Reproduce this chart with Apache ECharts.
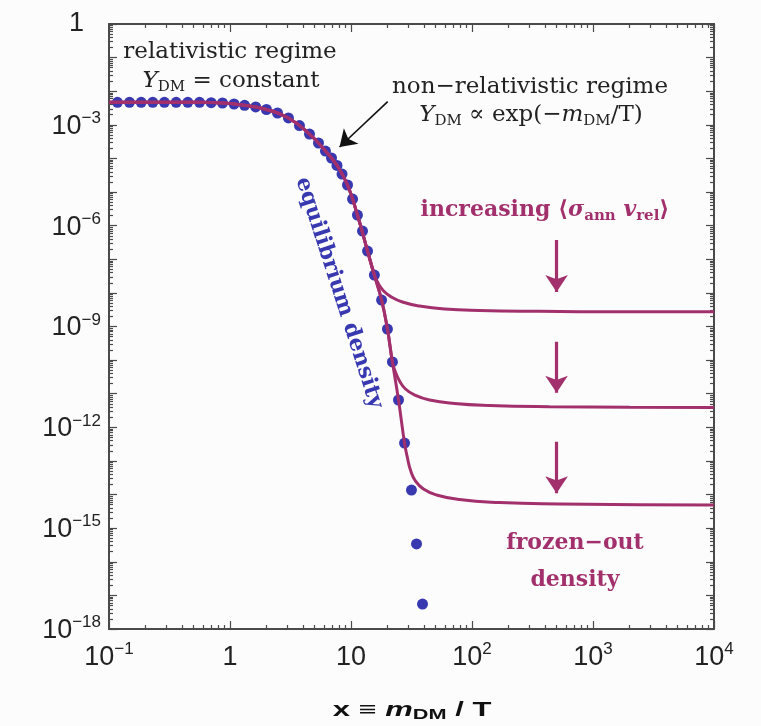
<!DOCTYPE html>
<html>
<head>
<meta charset="utf-8">
<script src="https://cdn.jsdelivr.net/npm/echarts@6/dist/echarts.min.js"></script>
<style>
  html, body { margin: 0; padding: 0; background: #fcfcfc; }
  #chart { width: 761px; height: 726px; }
</style>
</head>
<body>
<div id="chart"></div>
<script>
// Axis ranges and tick positions
const xRange = [0.1, 1e4];
const yRange = [1e-18, 1];
const xLabelValues = [0.1, 1, 10, 100, 1000, 10000];
const yLabelValues = [1e-18, 1e-15, 1e-12, 1e-9, 1e-6, 1e-3, 1];
const yDecadeValues = [1e-18, 1e-17, 1e-16, 1e-15, 1e-14, 1e-13, 1e-12, 1e-11, 1e-10,
  1e-9, 1e-8, 1e-7, 1e-6, 1e-5, 1e-4, 1e-3, 1e-2, 1e-1, 1];

// Equilibrium abundance Y_DM(x)
const equilibriumDots = [
  [0.1175, 4.68e-3], [0.1477, 4.68e-3], [0.1845, 4.68e-3], [0.230, 4.68e-3],
  [0.287, 4.68e-3], [0.359, 4.68e-3], [0.448, 4.68e-3], [0.560, 4.68e-3],
  [0.699, 4.55e-3], [0.867, 4.46e-3], [1.08, 4.17e-3], [1.32, 3.81e-3],
  [1.63, 3.40e-3], [2.00, 2.86e-3], [2.47, 2.25e-3], [3.04, 1.60e-3],
  [3.75, 9.5e-4], [4.54, 5.33e-4], [5.39, 2.88e-4], [6.15, 1.66e-4],
  [6.90, 1.03e-4], [7.66, 6.2e-5], [8.43, 3.44e-5], [9.36, 1.62e-5],
  [10.3, 6.2e-6], [11.3, 2.07e-6], [12.45, 6.9e-7], [13.7, 1.76e-7],
  [15.6, 3.4e-8], [17.9, 6.1e-9], [20.0, 8.4e-10], [22.0, 8.8e-11],
  [24.7, 6.5e-12], [27.7, 3.4e-13], [31.6, 1.36e-14], [34.8, 3.4e-16],
  [39.0, 5.5e-18]
];

// Actual abundance: common track before freeze-out
const trackCommon = [
  [0.1, 4.68e-3], [0.2, 4.68e-3], [0.35, 4.68e-3], [0.56, 4.67e-3],
  [0.867, 4.46e-3], [1.32, 3.81e-3], [2.00, 2.86e-3], [3.04, 1.60e-3],
  [4.54, 5.33e-4], [6.15, 1.66e-4], [7.66, 6.2e-5], [9.36, 1.62e-5],
  [11.3, 2.07e-6], [13.7, 1.76e-7], [15.6, 3.4e-8]
];
const trackMidLow = [[17.9, 6.1e-9], [20.0, 8.4e-10], [22.0, 8.8e-11]];
const trackLow = [[24.7, 6.5e-12], [27.7, 3.4e-13]];

// Frozen-out tails for three annihilation cross sections
const tailWeak = [
  [16.9, 1.84e-8], [18.6, 1.14e-8], [21.6, 7.5e-9], [26.6, 5.35e-9],
  [36.8, 4.07e-9], [59.3, 3.31e-9], [115, 2.99e-9], [361, 2.83e-9],
  [1656, 2.75e-9], [10000, 2.74e-9]
];
const tailMedium = [
  [23.3, 4.43e-11], [25.2, 2.39e-11], [28.2, 1.38e-11], [33.5, 9.16e-12],
  [44.6, 6.5e-12], [71.7, 5.12e-12], [139.5, 4.46e-12], [437, 4.1e-12],
  [2003, 3.97e-12], [10000, 3.92e-12]
];
const tailStrong = [
  [29.3, 1.22e-13], [31.0, 5.37e-14], [34.1, 2.53e-14], [39.7, 1.46e-14],
  [50.9, 9.7e-15], [78.8, 7.1e-15], [169, 5.79e-15], [529, 5.22e-15],
  [2423, 4.98e-15], [10000, 4.88e-15]
];

// Annotation arrows
const sigmaArrows = [
  [[500, 3.74e-7], [500, 1.06e-8]],
  [[500, 3.53e-10], [500, 1.07e-11]],
  [[500, 3.73e-13], [500, 1.09e-14]]
];
const regimeArrow = [[20.1, 4.88e-3], [8.04, 2.19e-4]];

const MAGENTA = '#a2306c';
const BLUE = '#3838b0';
const INK = '#222222';
const FRAME = '#4a4a4a';

// minor ticks 2..9 within each decade
function minorValues(lo, hi) {
  const out = [];
  for (let e = lo; e < hi; e++) {
    for (let k = 2; k <= 9; k++) out.push(k * Math.pow(10, e));
  }
  return out;
}
const xMinor = minorValues(-1, 4);
const yMinor = minorValues(-18, 0);

function powerLabel(v, isY) {
  const e = Math.round(Math.log10(v));
  if (e === 0) return isY ? '{one|1}' : '{b|1}';
  if (e === 1) return '{b|10}';
  const exp = e < 0 ? '\u2212' + (-e) : String(e);
  return '{b|10}{s|' + exp + '}';
}
const labelRich = {
  b: { fontFamily: 'Liberation Sans', fontSize: 27, color: INK, lineHeight: 30, verticalAlign: 'bottom' },
  s: { fontFamily: 'Liberation Sans', fontSize: 17, color: INK, lineHeight: 18, verticalAlign: 'top' },
  one: { fontFamily: 'Liberation Sans', fontSize: 27, color: INK, lineHeight: 30, padding: [0, 17, 0, 0] }
};

function frameAxis(kind, pos, grid, range, ticks, len, showLine, labels) {
  const ax = {
    type: 'log', logBase: 10, gridIndex: grid, position: pos,
    min: range[0], max: range[1],
    axisLine: { show: showLine, onZero: false, lineStyle: { color: FRAME, width: 2 } },
    axisTick: { show: true, inside: true, length: len, customValues: ticks,
      lineStyle: { color: FRAME, width: 1.2 } },
    splitLine: { show: false },
    minorTick: { show: false },
    axisLabel: { show: false }
  };
  if (labels) {
    ax.axisLabel = {
      show: true, customValues: labels, margin: kind === 'x' ? 12 : 8,
      formatter: v => powerLabel(v, kind === 'y'), rich: labelRich
    };
  }
  return ax;
}

const gridBox = { left: 109, top: 24, width: 605, height: 605 };

const option = {
  backgroundColor: '#fcfcfc',
  animation: false,
  grid: [Object.assign({}, gridBox), Object.assign({}, gridBox)],
  xAxis: [
    frameAxis('x', 'bottom', 0, xRange, xLabelValues, 8, true, xLabelValues),
    frameAxis('x', 'top', 0, xRange, xLabelValues, 8, true, null),
    frameAxis('x', 'bottom', 1, xRange, xMinor, 4, false, null),
    frameAxis('x', 'top', 1, xRange, xMinor, 4, false, null)
  ],
  yAxis: [
    frameAxis('y', 'left', 0, yRange, yDecadeValues, 8, true, yLabelValues),
    frameAxis('y', 'right', 0, yRange, yDecadeValues, 8, true, null),
    frameAxis('y', 'left', 1, yRange, yMinor, 4, false, null),
    frameAxis('y', 'right', 1, yRange, yMinor, 4, false, null)
  ],
  series: [
    {
      type: 'scatter', xAxisIndex: 0, yAxisIndex: 0, z: 2,
      data: equilibriumDots, symbol: 'circle', symbolSize: 11,
      itemStyle: { color: BLUE, opacity: 1 }
    },
    ...[
      trackCommon.concat(tailWeak),
      trackCommon.concat(trackMidLow, tailMedium),
      trackCommon.concat(trackMidLow, trackLow, tailStrong)
    ].map(d => ({
      type: 'line', xAxisIndex: 0, yAxisIndex: 0, z: 3,
      data: d, showSymbol: false, smooth: 0.5,
      lineStyle: { color: MAGENTA, width: 3 }
    })),
    {
      type: 'lines', coordinateSystem: 'cartesian2d', xAxisIndex: 0, yAxisIndex: 0, z: 4,
      data: sigmaArrows.map(c => ({ coords: c })),
      symbol: ['none', 'arrow'], symbolSize: [13, 17],
      lineStyle: { color: MAGENTA, width: 3.2, opacity: 1 }
    },
    {
      type: 'lines', coordinateSystem: 'cartesian2d', xAxisIndex: 0, yAxisIndex: 0, z: 4,
      data: [{ coords: regimeArrow }],
      symbol: ['none', 'arrow'], symbolSize: [11, 16],
      lineStyle: { color: '#111', width: 1.6, opacity: 1 }
    }
  ],
  graphic: [
    {
      type: 'text', x: 230, y: 52, z: 10,
      style: { text: 'relativistic regime', fontFamily: 'DejaVu Serif', fontSize: 23,
        fill: INK, align: 'center', verticalAlign: 'middle' }
    },
    {
      type: 'text', x: 231, y: 81, z: 10,
      style: {
        text: '{i|Y}{sub|DM}{t| = constant}', align: 'center', verticalAlign: 'middle',
        fill: INK, fontFamily: 'DejaVu Serif', fontSize: 23,
        rich: {
          i: { fontFamily: 'DejaVu Serif', fontStyle: 'italic', fontSize: 23, lineHeight: 28, fill: INK },
          sub: { fontFamily: 'DejaVu Serif', fontSize: 15, lineHeight: 12, verticalAlign: 'bottom', fill: INK },
          t: { fontFamily: 'DejaVu Serif', fontSize: 23, lineHeight: 28, fill: INK }
        }
      }
    },
    {
      type: 'text', x: 530, y: 87, z: 10,
      style: { text: 'non\u2212relativistic regime', fontFamily: 'DejaVu Serif', fontSize: 23,
        fill: INK, align: 'center', verticalAlign: 'middle' }
    },
    {
      type: 'text', x: 531, y: 115, z: 10,
      style: {
        text: '{i|Y}{sub|DM}{t| \u221D exp(\u2212}{i|m}{sub|DM}{t|/T)}',
        align: 'center', verticalAlign: 'middle',
        fill: INK, fontFamily: 'DejaVu Serif', fontSize: 23,
        rich: {
          i: { fontFamily: 'DejaVu Serif', fontStyle: 'italic', fontSize: 23, lineHeight: 28, fill: INK },
          sub: { fontFamily: 'DejaVu Serif', fontSize: 15, lineHeight: 12, verticalAlign: 'bottom', fill: INK },
          t: { fontFamily: 'DejaVu Serif', fontSize: 23, lineHeight: 28, fill: INK }
        }
      }
    },
    {
      type: 'text', x: 545, y: 210, z: 10,
      style: {
        text: '{t|increasing \u27E8}{i|\u03C3}{sub|ann}{t| }{i|v}{sub|rel}{t|\u27E9}',
        align: 'center', verticalAlign: 'middle',
        fill: MAGENTA, fontFamily: 'DejaVu Serif', fontSize: 22,
        rich: {
          t: { fontFamily: 'DejaVu Serif', fontWeight: 'bold', fontSize: 22, lineHeight: 28, fill: MAGENTA },
          i: { fontFamily: 'DejaVu Serif', fontStyle: 'italic', fontWeight: 'bold', fontSize: 22, lineHeight: 28, fill: MAGENTA },
          sub: { fontFamily: 'DejaVu Serif', fontWeight: 'bold', fontSize: 15, lineHeight: 12, verticalAlign: 'bottom', fill: MAGENTA }
        }
      }
    },
    {
      type: 'text', x: 575, y: 543, z: 10,
      style: { text: 'frozen\u2212out', fontFamily: 'DejaVu Serif', fontWeight: 'bold', fontSize: 22,
        fill: MAGENTA, align: 'center', verticalAlign: 'middle' }
    },
    {
      type: 'text', x: 575, y: 580, z: 10,
      style: { text: 'density', fontFamily: 'DejaVu Serif', fontWeight: 'bold', fontSize: 22,
        fill: MAGENTA, align: 'center', verticalAlign: 'middle' }
    },
    {
      type: 'text', x: 339, y: 293, z: 10, rotation: -72 * Math.PI / 180,
      style: { text: 'equilibrium density', fontFamily: 'DejaVu Serif', fontWeight: 'bold', fontSize: 22,
        fill: BLUE, align: 'center', verticalAlign: 'middle' }
    },
    {
      type: 'text', x: 412, y: 710, z: 10, scaleX: 1.55,
      style: {
        text: '{t|x \u2261 }{i|m}{sub|DM}{t| / T}', align: 'center', verticalAlign: 'middle',
        fill: '#111', fontFamily: 'Liberation Sans', fontSize: 20, fontWeight: 'bold',
        rich: {
          t: { fontFamily: 'Liberation Sans', fontWeight: 'bold', fontSize: 20, lineHeight: 24, fill: '#111' },
          i: { fontFamily: 'Liberation Sans', fontWeight: 'bold', fontStyle: 'italic', fontSize: 20, lineHeight: 24, fill: '#111' },
          sub: { fontFamily: 'Liberation Sans', fontWeight: 'bold', fontSize: 14, lineHeight: 10, verticalAlign: 'bottom', fill: '#111' }
        }
      }
    }
  ]
};

const chart = echarts.init(document.getElementById('chart'), null, { renderer: 'canvas' });
chart.setOption(option);
</script>
</body>
</html>
